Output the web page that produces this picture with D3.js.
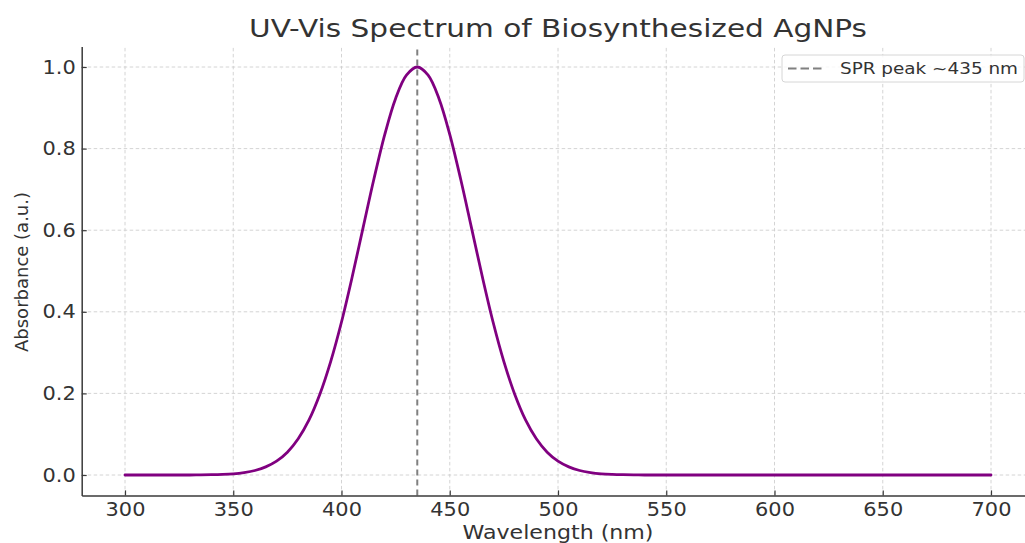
<!DOCTYPE html>
<html>
<head>
<meta charset="utf-8">
<script src="https://cdn.jsdelivr.net/npm/d3@7"></script>
<style>
  body { margin: 0; background: #fff; }
  svg { display: block; font-family: "DejaVu Sans", sans-serif; }
</style>
</head>
<body>
<div id="grafica"></div>
<script>
// Datos
const longitudes = [300, 305, 310, 315, 320, 325, 330, 335, 340, 345, 350, 355, 360, 365, 370, 375,
    380, 385, 390, 395, 400, 405, 410, 415, 420, 425, 430, 435, 440, 445, 450, 455, 460, 465, 470,
    475, 480, 485, 490, 495, 500, 505, 510, 515, 520, 525, 530, 535, 540, 545, 550, 555, 560, 565,
    570, 575, 580, 585, 590, 595, 600, 605, 610, 615, 620, 625, 630, 635, 640, 645, 650, 655, 660,
    665, 670, 675, 680, 685, 690, 695, 700]
const absorbancia = [0, 0, 0, 0, 0, 0, 0, 0.0003, 0.0007, 0.0015, 0.003, 0.006, 0.011, 0.020, 0.034, 0.056,
    0.089, 0.135, 0.198, 0.278, 0.375, 0.487, 0.607, 0.726, 0.835, 0.923, 0.980, 1.0, 0.980, 0.923, 0.835,
    0.726, 0.607, 0.487, 0.375, 0.278, 0.198, 0.135, 0.089, 0.056, 0.034, 0.020, 0.011, 0.006, 0.003,
    0.0015, 0.0007, 0.0003, 0, 0, 0, 0, 0, 0, 0, 0, 0, 0, 0, 0, 0, 0, 0, 0, 0, 0, 0, 0, 0, 0, 0,
    0, 0, 0, 0, 0, 0, 0, 0, 0, 0]
const ticksX = [300, 350, 400, 450, 500, 550, 600, 650, 700]
const ticksY = [0.0, 0.2, 0.4, 0.6, 0.8, 1.0]
const picoSPR = 435
const titulo = "UV-Vis Spectrum of Biosynthesized AgNPs"
const etiquetaLeyenda = "SPR peak ~435 nm"

const anchoTotal = 1025
const altoTotal = 543

const datos = longitudes.map((l, i) => ({ l, a: absorbancia[i] }))

const svg = d3.select("#grafica").append("svg")
    .attr("width", anchoTotal)
    .attr("height", altoTotal)

// Escaladores
const x = d3.scaleLinear().domain([280, 720]).range([81.7, 1034.3])
const y = d3.scaleLinear().domain([-0.05, 1.05]).range([495.4, 46.6])

const [x0, x1] = x.range()
const [y0, y1] = y.range()

// estira el texto en horizontal como en la imagen original
const estirar = (sel, k) => sel.each(function () {
    const w = this.getComputedTextLength()
    d3.select(this).attr("textLength", w * k).attr("lengthAdjust", "spacingAndGlyphs")
})

// Rejilla
const rejilla = svg.append("g")
rejilla.selectAll(".gx").data(ticksX).join("line")
    .attr("x1", d => x(d)).attr("x2", d => x(d))
    .attr("y1", y0).attr("y2", y1)
rejilla.selectAll(".gy").data(ticksY).join("line")
    .attr("class", "gy")
    .attr("x1", x0).attr("x2", x1)
    .attr("y1", d => y(d)).attr("y2", d => y(d))
rejilla.selectAll("line")
    .attr("stroke", "#cfcfcf")
    .attr("stroke-width", 0.9)
    .attr("stroke-dasharray", "3.5,2.5")

// Linea del pico SPR
svg.append("line")
    .attr("x1", x(picoSPR)).attr("x2", x(picoSPR))
    .attr("y1", y0).attr("y2", y1)
    .attr("stroke", "#808080")
    .attr("stroke-width", 2)
    .attr("stroke-dasharray", "6,4")

// Curva
const linea = d3.line()
    .x(d => x(d.l))
    .y(d => y(d.a))
    .curve(d3.curveCatmullRom)

svg.append("path")
    .datum(datos)
    .attr("d", linea)
    .attr("fill", "none")
    .attr("stroke", "#800080")
    .attr("stroke-width", 2.8)
    .attr("stroke-linejoin", "round")
    .attr("stroke-linecap", "round")

// Ejes (ticks hacia dentro)
const xAxis = svg.append("g")
    .attr("transform", `translate(0, ${y0})`)
    .call(d3.axisBottom(x).tickValues(ticksX).tickFormat(d3.format("d")).tickSizeInner(-5).tickSizeOuter(0).tickPadding(7))
const yAxis = svg.append("g")
    .attr("transform", `translate(${x0}, 0)`)
    .call(d3.axisLeft(y).tickValues(ticksY).tickFormat(d3.format(".1f")).tickSizeInner(-5).tickSizeOuter(0).tickPadding(6))

for (const eje of [xAxis, yAxis]) {
    eje.select(".domain").attr("stroke", "#3a3a3a").attr("stroke-width", 1.5)
    eje.selectAll(".tick line").attr("stroke", "#3a3a3a").attr("stroke-width", 1.2)
    eje.selectAll(".tick text")
        .attr("fill", "#333")
        .style("font-size", "19px")
        .style("font-family", "DejaVu Sans")
    estirar(eje.selectAll(".tick text"), 1.1)
}
xAxis.selectAll(".tick text").attr("dy", "0.71em")

// Titulo
svg.append("text")
    .attr("x", (x0 + x1) / 2)
    .attr("y", 37)
    .attr("text-anchor", "middle")
    .attr("fill", "#333")
    .style("font-size", "24px")
    .attr("textLength", 618)
    .attr("lengthAdjust", "spacingAndGlyphs")
    .text(titulo)

// Etiquetas de ejes
svg.append("text")
    .attr("x", (x0 + x1) / 2)
    .attr("y", 539)
    .attr("text-anchor", "middle")
    .attr("fill", "#333")
    .style("font-size", "19px")
    .attr("textLength", 191)
    .attr("lengthAdjust", "spacingAndGlyphs")
    .text("Wavelength (nm)")

svg.append("text")
    .attr("transform", "translate(28, 272) rotate(-90)")
    .attr("text-anchor", "middle")
    .attr("fill", "#333")
    .style("font-size", "18px")
    .text("Absorbance (a.u.)")

// Leyenda
const leyenda = svg.append("g").attr("transform", "translate(782, 55)")
leyenda.append("rect")
    .attr("width", 242)
    .attr("height", 27)
    .attr("rx", 3)
    .attr("fill", "rgba(255,255,255,0.8)")
    .attr("stroke", "#d6d6d6")
leyenda.append("line")
    .attr("x1", 6).attr("x2", 40)
    .attr("y1", 13.5).attr("y2", 13.5)
    .attr("stroke", "#808080")
    .attr("stroke-width", 2)
    .attr("stroke-dasharray", "8.5,4")
leyenda.append("text")
    .attr("x", 58)
    .attr("y", 19)
    .attr("fill", "#333")
    .style("font-size", "16px")
    .attr("textLength", 178)
    .attr("lengthAdjust", "spacingAndGlyphs")
    .text(etiquetaLeyenda)
</script>
</body>
</html>
